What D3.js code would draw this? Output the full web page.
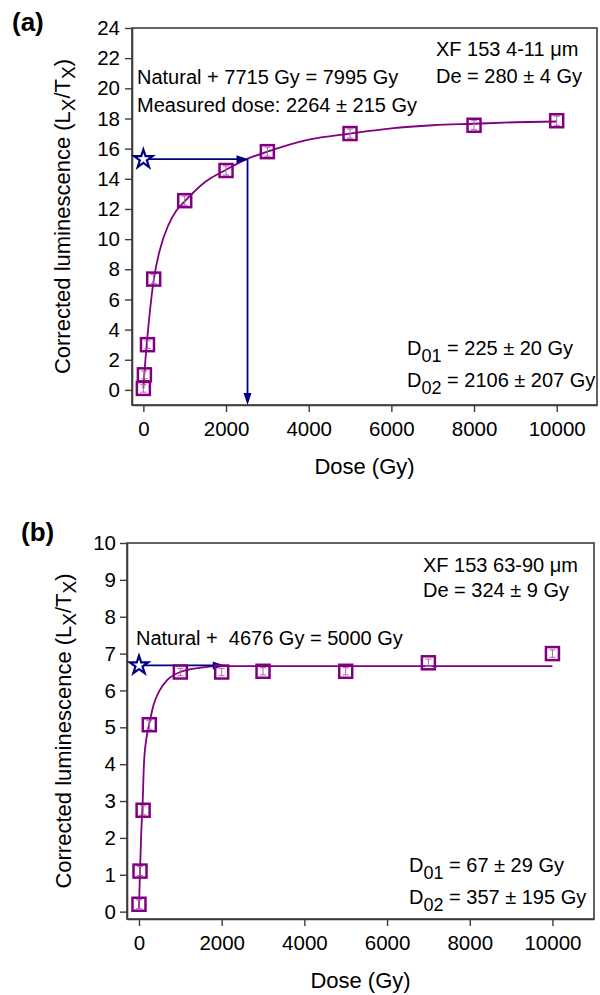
<!DOCTYPE html>
<html><head><meta charset="utf-8">
<script src="https://cdn.jsdelivr.net/npm/d3@7/dist/d3.min.js"></script>
<style>
body{margin:0;background:#fff}
text{font-family:"Liberation Sans",Arial,Helvetica,sans-serif;white-space:pre}
</style>
</head><body>
<svg id="chart" width="600" height="995"></svg>
<script>
// ---------- data ----------
const doseTicks = [0, 2000, 4000, 6000, 8000, 10000];
const lumTicksA = [0, 2, 4, 6, 8, 10, 12, 14, 16, 18, 20, 22, 24];
const lumTicksB = [0, 1, 2, 3, 4, 5, 6, 7, 8, 9, 10];

// panel (a) regenerated points
const doseA = [0, 25, 100, 250, 1000, 2000, 3000, 5000, 8000, 10000];
const lumA  = [0.1, 1.0, 3.0, 7.35, 12.55, 14.55, 15.8, 17.0, 17.55, 17.85];
const errA  = [0.25, 0.25, 0.25, 0.3, 0.3, 0.3, 0.3, 0.3, 0.3, 0.3];
// fitted growth curve (a)
const fitDoseA = [0, 25, 50, 100, 150, 250, 400, 600, 800, 1000, 1500, 2000, 2500, 3000, 4000, 5000, 6000, 7000, 8000, 9000, 10000];
const fitLumA  = [0.1, 1.1, 2.0, 3.6, 5.0, 7.3, 9.3, 10.9, 11.9, 12.5, 13.8, 14.6, 15.3, 15.8, 16.6, 17.0, 17.35, 17.55, 17.65, 17.75, 17.8];
// natural signal (star) and projected dose (a)
const naturalA = [0, 15.3];
const projDoseA = 2520;

// panel (b) regenerated points
const doseB = [0, 25, 100, 250, 1000, 2000, 3000, 5000, 7000, 10000];
const lumB  = [0.2, 1.1, 2.75, 5.07, 6.5, 6.5, 6.52, 6.52, 6.75, 7.0];
const errB  = [0.12, 0.12, 0.12, 0.12, 0.1, 0.1, 0.1, 0.1, 0.1, 0.1];
// fitted growth curve (b)
const fitDoseB = [0, 25, 50, 90, 120, 180, 250, 350, 500, 680, 1000, 1500, 2000, 3000, 10000];
const fitLumB  = [0.1, 1.1, 2.0, 3.0, 4.0, 4.7, 5.1, 5.6, 6.0, 6.28, 6.5, 6.62, 6.66, 6.66, 6.66];
const naturalB = [0, 6.68];
const projDoseB = 2050;

// ---------- drawing ----------
const svg = d3.select("#chart");
const PURPLE = "#800080", NAVY = "#000080", FRAME = "#3c3c3c";

function richText(g, x, y, parts, opts = {}) {
  const t = g.append("text").attr("x", x).attr("y", y)
    .attr("font-size", opts.size || 20).attr("fill", "#000")
    .attr("xml:space", "preserve")
    .attr("text-anchor", opts.anchor || "start");
  if (opts.transform) t.attr("transform", opts.transform);
  let shifted = 0;
  parts.forEach(p => {
    const ts = t.append("tspan").text(p.t);
    if (p.sub) {
      ts.attr("font-size", opts.subSize || 18).attr("dy", opts.subShift || 6.5);
      shifted += (opts.subShift || 6.5);
    } else if (shifted) {
      ts.attr("dy", -shifted); shifted = 0;
    }
  });
  return t;
}

function panel(c) {
  const x = d3.scaleLinear().domain(c.xDom).range([c.left, c.right]);
  const y = d3.scaleLinear().domain(c.yDom).range([c.bottom, c.top]);
  const g = svg.append("g");

  // frame
  g.append("rect").attr("x", c.left).attr("y", c.top)
    .attr("width", c.right - c.left).attr("height", c.bottom - c.top)
    .attr("fill", "none").attr("stroke", FRAME).attr("stroke-width", 1.6);

  const ax = g.append("g").attr("transform", `translate(0,${c.bottom})`)
    .call(d3.axisBottom(x).tickValues(doseTicks).tickFormat(d3.format("d"))
      .tickSize(7).tickPadding(c.xPad).tickSizeOuter(0));
  const ay = g.append("g").attr("transform", `translate(${c.left},0)`)
    .call(d3.axisLeft(y).tickValues(c.yTicks).tickFormat(d3.format("d"))
      .tickSize(7).tickPadding(c.yPad).tickSizeOuter(0));
  [ax, ay].forEach(a => {
    a.select(".domain").attr("stroke", FRAME).attr("stroke-width", 1.6);
    a.selectAll(".tick line").attr("stroke", FRAME).attr("stroke-width", 1.4);
    a.selectAll(".tick text").attr("font-size", 20.5).attr("fill", "#000")
      .attr("font-family", '"Liberation Sans",Arial,sans-serif');
  });

  // axis titles
  g.append("text").attr("x", (c.left + c.right) / 2).attr("y", c.xTitleY)
    .attr("text-anchor", "middle").attr("font-size", 22).text("Dose (Gy)");
  const cy = (c.top + c.bottom) / 2;
  richText(g, 0, 0, [
    {t: "Corrected luminescence (L"}, {t: "X", sub: true}, {t: "/T"}, {t: "X", sub: true}, {t: ")"}
  ], {size: 22, subSize: 19, subShift: 5, anchor: "middle",
      transform: `translate(${c.yTitleX},${cy}) rotate(-90)`});

  // panel label
  g.append("text").attr("x", c.labX).attr("y", c.labY).attr("font-size", 26)
    .attr("font-weight", "bold").text(c.label);

  // fitted curve
  const fit = c.fitDose.map((d, i) => [d, c.fitLum[i]]);
  g.append("path").datum(fit)
    .attr("d", d3.line().x(d => x(d[0])).y(d => y(d[1])).curve(d3.curveMonotoneX))
    .attr("fill", "none").attr("stroke", PURPLE).attr("stroke-width", 1.8);

  // projection arrows
  const sx = x(c.natural[0]), sy = y(c.natural[1]), px = x(c.projDose);
  g.append("line").attr("x1", sx).attr("y1", sy).attr("x2", px - 8).attr("y2", sy)
    .attr("stroke", NAVY).attr("stroke-width", 1.8);
  g.append("path").attr("d", `M${px + 1},${sy} L${px - 11},${sy - 4} L${px - 11},${sy + 4} Z`)
    .attr("fill", NAVY);
  if (c.vertical) {
    g.append("line").attr("x1", px).attr("y1", sy).attr("x2", px).attr("y2", c.bottom - 8)
      .attr("stroke", NAVY).attr("stroke-width", 1.8);
    g.append("path").attr("d", `M${px},${c.bottom} L${px - 4},${c.bottom - 12} L${px + 4},${c.bottom - 12} Z`)
      .attr("fill", NAVY);
  }

  // error bars + squares
  const pts = c.dose.map((d, i) => ({d, v: c.lum[i], e: c.err[i]}));
  const eb = g.append("g").attr("stroke", "#b060b0").attr("stroke-width", 1);
  pts.forEach(p => {
    const xx = x(p.d), y1 = y(p.v - p.e), y2 = y(p.v + p.e);
    eb.append("line").attr("x1", xx).attr("x2", xx).attr("y1", y1).attr("y2", y2);
    eb.append("line").attr("x1", xx - 3).attr("x2", xx + 3).attr("y1", y1).attr("y2", y1);
    eb.append("line").attr("x1", xx - 3).attr("x2", xx + 3).attr("y1", y2).attr("y2", y2);
  });
  g.append("g").selectAll("rect").data(pts).join("rect")
    .attr("x", p => x(p.d) - 6.5).attr("y", p => y(p.v) - 6.5)
    .attr("width", 13).attr("height", 13)
    .attr("fill", "none").attr("stroke", PURPLE).attr("stroke-width", 2.5);

  // natural (star)
  g.append("path").attr("d", d3.symbol(d3.symbolStar, 105)())
    .attr("transform", `translate(${sx},${sy})`)
    .attr("fill", "#fff").attr("stroke", NAVY).attr("stroke-width", 2.2);

  // annotations
  c.notes.forEach(n => richText(g, n.x, n.y, n.parts, {size: 20, subSize: 18, subShift: 6.5}));
}

panel({
  left: 132, right: 597, top: 28, bottom: 405,
  xDom: [-275, 10975], yDom: [-1, 24], yTicks: lumTicksA,
  xPad: 9, yPad: 5, xTitleY: 474, yTitleX: 70,
  label: "(a)", labX: 12, labY: 31,
  dose: doseA, lum: lumA, err: errA, fitDose: fitDoseA, fitLum: fitLumA,
  natural: naturalA, projDose: projDoseA, vertical: true,
  notes: [
    {x: 137, y: 84, parts: [{t: "Natural + 7715 Gy = 7995 Gy"}]},
    {x: 137, y: 112, parts: [{t: "Measured dose: 2264 ± 215 Gy"}]},
    {x: 436, y: 56, parts: [{t: "XF 153 4-11 μm"}]},
    {x: 436, y: 83, parts: [{t: "De = 280 ± 4 Gy"}]},
    {x: 407, y: 355, parts: [{t: "D"}, {t: "01", sub: true}, {t: " = 225 ± 20 Gy"}]},
    {x: 407, y: 387, parts: [{t: "D"}, {t: "02", sub: true}, {t: " = 2106 ± 207 Gy"}]}
  ]
});

panel({
  left: 127, right: 594, top: 543, bottom: 919,
  xDom: [-290, 11005], yDom: [-0.2, 10], yTicks: lumTicksB,
  xPad: 9, yPad: 4, xTitleY: 988, yTitleX: 71,
  label: "(b)", labX: 21, labY: 541,
  dose: doseB, lum: lumB, err: errB, fitDose: fitDoseB, fitLum: fitLumB,
  natural: naturalB, projDose: projDoseB, vertical: false,
  notes: [
    {x: 136, y: 645, parts: [{t: "Natural +  4676 Gy = 5000 Gy"}]},
    {x: 423, y: 572, parts: [{t: "XF 153 63-90 μm"}]},
    {x: 423, y: 597, parts: [{t: "De = 324 ± 9 Gy"}]},
    {x: 409, y: 872, parts: [{t: "D"}, {t: "01", sub: true}, {t: " = 67 ± 29 Gy"}]},
    {x: 409, y: 904, parts: [{t: "D"}, {t: "02", sub: true}, {t: " = 357 ± 195 Gy"}]}
  ]
});
</script>
</body></html>
